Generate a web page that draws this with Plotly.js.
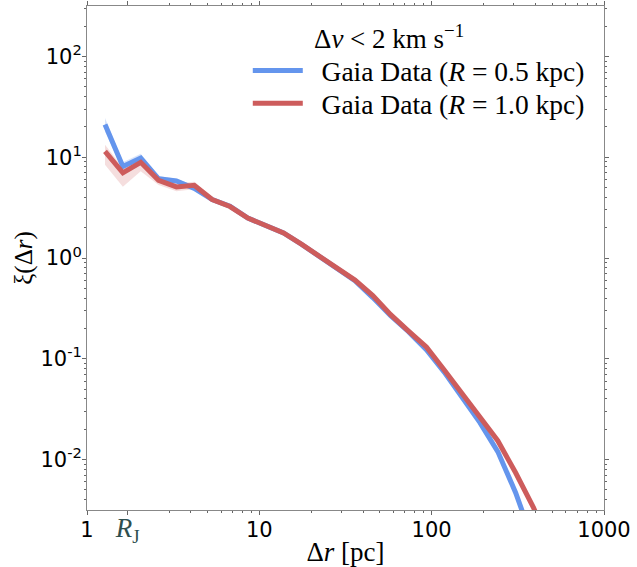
<!DOCTYPE html>
<html>
<head>
<meta charset="utf-8">
<script src="https://cdn.plot.ly/plotly-3.0.1.min.js"></script>
<style>html,body{margin:0;padding:0;background:#fff;}#chart{width:637px;height:567px;}</style>
</head>
<body>
<div id="chart"></div>
<script>
// separation bins (pc)
const dr = [1.272, 1.615, 2.050, 2.602, 3.303, 4.194, 5.323, 6.757, 8.577, 10.89, 13.82, 17.54, 22.27, 28.27, 35.88, 45.55, 57.82, 73.40, 93.18, 118.3, 150.1, 190.6, 241.9, 307.1, 389.8, 494.9];
// correlation function, R = 0.5 kpc
const xi05 = [21.1, 8.1, 9.8, 6.1, 5.8, 4.9, 3.80, 3.26, 2.49, 2.12, 1.77, 1.37, 1.04, 0.785, 0.597, 0.405, 0.268, 0.186, 0.123, 0.0738, 0.0425, 0.0233, 0.0120, 0.0047, 0.0015];
// correlation function, R = 1.0 kpc
const xi10 = [11.4, 7.0, 8.9, 5.9, 5.07, 5.26, 3.80, 3.24, 2.49, 2.12, 1.77, 1.37, 1.04, 0.794, 0.604, 0.424, 0.274, 0.188, 0.131, 0.0773, 0.0457, 0.0269, 0.0154, 0.0074, 0.00334, 0.0013];
// uncertainty bands (first bins)
const xi05Lo = [18.0, 7.4, 9.0, 5.7, 5.5, 4.7, 3.65, 3.15];
const xi05Hi = [24.5, 8.9, 10.8, 6.5, 6.1, 5.2, 3.95, 3.38];
const xi10Lo = [8.4, 5.1, 7.25, 5.3, 4.6, 4.8, 3.6, 3.1];
const xi10Hi = [13.3, 7.8, 9.6, 6.5, 5.5, 5.7, 4.0, 3.4];
// names and ticks
const seriesNames = ['Gaia Data (<i>R</i> = 0.5 kpc)', 'Gaia Data (<i>R</i> = 1.0 kpc)'];
const legendTitle = 'Δ<i>v</i> &lt; 2 km s<sup>−1</sup>';
const RJ = 1.72;
const xTickVals = [1, RJ, 10, 100, 1000];
const xTickText = ['1', '<span style="color:#2f4f4f;font-family:\'Liberation Serif\';font-size:27px"><i>R</i><sub>J</sub></span>', '10', '100', '1000'];
const yTickVals = [0.01, 0.1, 1, 10, 100];
const yTickText = ['10<sup>-2</sup>', '10<sup>-1</sup>', '10<sup>0</sup>', '10<sup>1</sup>', '10<sup>2</sup>'];

const blue = '#6495ED', red = '#CD5C5C';

const minorX = [];
for (let d = 1; d < 1000; d *= 10) for (let m = 2; m <= 9; m++) { if (!(d === 1 && m === 2)) minorX.push(d * m); }
const minorY = [];
for (let d = 0.001; d < 200; d *= 10) for (let m = 2; m <= 9; m++) minorY.push(+(d * m).toPrecision(3));

const nb5 = xi05Lo.length, nb10 = xi10Lo.length;
const traces = [
  {x: dr.slice(0, nb5), y: xi05Lo, mode: 'lines', line: {width: 0, color: blue}, showlegend: false, hoverinfo: 'skip'},
  {x: dr.slice(0, nb5), y: xi05Hi, mode: 'lines', line: {width: 0, color: blue}, fill: 'tonexty', fillcolor: 'rgba(100,149,237,0.25)', showlegend: false, hoverinfo: 'skip'},
  {x: dr.slice(0, nb10), y: xi10Lo, mode: 'lines', line: {width: 0, color: red}, showlegend: false, hoverinfo: 'skip'},
  {x: dr.slice(0, nb10), y: xi10Hi, mode: 'lines', line: {width: 0, color: red}, fill: 'tonexty', fillcolor: 'rgba(205,92,92,0.2)', showlegend: false, hoverinfo: 'skip'},
  {x: dr.slice(0, xi05.length), y: xi05, mode: 'lines', name: '\u2002' + seriesNames[0], legend: 'legend', line: {width: 5, color: blue}},
  {x: dr.slice(0, xi10.length), y: xi10, mode: 'lines', name: '\u2002' + seriesNames[1], legend: 'legend2', line: {width: 5, color: red}}
];

const axisCommon = {
  showline: true, linecolor: '#888', linewidth: 1, mirror: 'allticks',
  ticks: 'outside', ticklen: 4, tickwidth: 1, tickcolor: '#666',
  showgrid: false, zeroline: false,
  tickfont: {family: 'DejaVu Sans', size: 21, color: '#000'}
};

const legendCommon = {
  xanchor: 'left', yanchor: 'top', bgcolor: 'rgba(0,0,0,0)', borderwidth: 0,
  font: {family: 'Liberation Serif', size: 27.5, color: '#000'},
  itemwidth: 50, traceorder: 'normal'
};

const layout = {
  width: 637, height: 567,
  margin: {l: 87, r: 33, t: 6, b: 57},
  paper_bgcolor: '#fff', plot_bgcolor: '#fff',
  xaxis: Object.assign({}, axisCommon, {
    type: 'log', range: [0, 3], tickmode: 'array', tickvals: xTickVals, ticktext: xTickText,
    ticklabelstandoff: -3,
    minor: {tickmode: 'array', tickvals: minorX, ticks: 'outside', ticklen: 2, tickcolor: '#666', showgrid: false},
    title: {text: 'Δ<i>r</i> [pc]', font: {family: 'Liberation Serif', size: 27, color: '#000'}, standoff: 4}
  }),
  yaxis: Object.assign({}, axisCommon, {
    type: 'log', range: [-2.5, 2.5], tickmode: 'array', tickvals: yTickVals, ticktext: yTickText,
    ticklabelstandoff: -4,
    minor: {tickmode: 'array', tickvals: minorY, ticks: 'outside', ticklen: 2, tickcolor: '#666', showgrid: false},
    title: {text: 'ξ(Δ<i>r</i>)', font: {family: 'Liberation Serif', size: 25, color: '#000'}, standoff: 0}
  }),
  showlegend: true,
  legend: Object.assign({}, legendCommon, {x: 0.311, y: 0.9206}),
  legend2: Object.assign({}, legendCommon, {x: 0.311, y: 0.8552}),
  annotations: [{
    text: legendTitle, xref: 'paper', yref: 'paper', x: 0.585, y: 0.9385,
    xanchor: 'center', yanchor: 'middle', showarrow: false,
    font: {family: 'Liberation Serif', size: 27, color: '#000'}
  }]
};

Plotly.newPlot('chart', traces, layout, {displayModeBar: false, staticPlot: true});
</script>
</body>
</html>
